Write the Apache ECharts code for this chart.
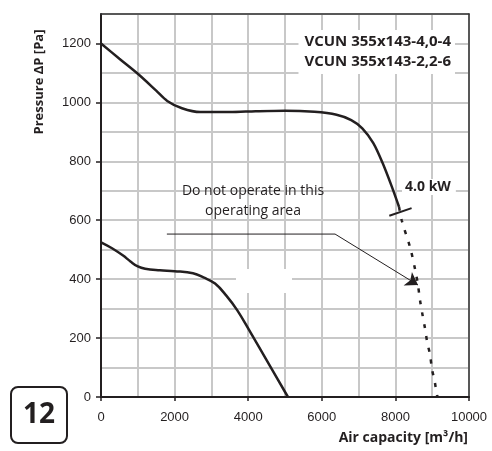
<!DOCTYPE html>
<html><head><meta charset="utf-8">
<script src="https://cdn.jsdelivr.net/npm/echarts@6/dist/echarts.min.js"></script>
<style>html,body{margin:0;padding:0;background:#fff}#c{width:492px;height:451px}</style>
</head><body><div id="c"></div>
<script>
// ---- data ----
const upperCurve = [[0,1200],[500,1148],[1000,1097],[1500,1040],[1800,1005],[2200,980],[2700,967],[3500,967],[4200,970],[5000,972],[5800,968],[6400,958],[6800,940],[7100,912],[7400,862],[7650,795],[7900,715],[8100,645]];
const upperExtension = [[8100,645],[8171,600],[8410,503],[8550,424],[8614,380],[8668,329],[8731,283],[8804,233],[8867,184],[8940,145],[8995,94],[9068,53],[9130,6],[9160,0]];
const lowerCurve = [[0,525],[300,505],[600,480],[800,460],[1000,443],[1200,435],[1600,430],[2000,427],[2500,420],[2800,405],[3100,385],[3400,345],[3700,295],[4050,222],[4500,125],[5080,0]];
const powerMark = [[7835,615],[8440,641]];
const noteLeader = [[1790,553],[6360,553]];
const noteArrow = [[6360,553],[8614,380]];
const yTicks = [0,200,400,600,800,1000,1200];
const xTicks = [0,2000,4000,6000,8000,10000];
const legendLines = ['VCUN 355x143-4,0-4','VCUN 355x143-2,2-6'];
const powerLabel = '4.0 kW';
const noteText = ['Do not operate in this','operating area'];
const yName = 'Pressure ΔP [Pa]';
const xName = 'Air capacity [m³/h]';
const badge = '12';

const ink = '#231f20';
const chart = echarts.init(document.getElementById('c'));
chart.setOption({
  animation: false,
  grid: {left:101, right:23, top:14, bottom:54},
  xAxis: [
    {type:'value', min:0, max:10000, interval:1000, position:'bottom', z:0,
      axisLine:{show:false}, axisTick:{show:false}, axisLabel:{show:false},
      splitLine:{show:true, lineStyle:{color:'#c8c8c8', width:2}}},
    {type:'value', min:0, max:10000, position:'bottom', z:2,
      axisLine:{show:true, onZero:false, lineStyle:{color:ink, width:2}},
      axisTick:{show:true, customValues:xTicks, length:4, lineStyle:{color:ink, width:1.5}},
      axisLabel:{customValues:xTicks, margin:14, color:ink, fontSize:13, fontFamily:'Liberation Sans, Arial', formatter: v => String(v)},
      splitLine:{show:false}},
    {type:'value', min:0, max:10000, position:'top', z:2,
      axisLine:{show:true, onZero:false, lineStyle:{color:'#333', width:1.5}},
      axisTick:{show:false}, axisLabel:{show:false}, splitLine:{show:false}}
  ],
  yAxis: [
    {type:'value', min:0, max:1300, interval:100, position:'left', z:0,
      axisLine:{show:false}, axisTick:{show:false}, axisLabel:{show:false},
      splitLine:{show:true, lineStyle:{color:'#c8c8c8', width:2}}},
    {type:'value', min:0, max:1300, position:'left', z:2,
      axisLine:{show:true, onZero:false, lineStyle:{color:ink, width:2}},
      axisTick:{show:true, customValues:yTicks, length:5, lineStyle:{color:ink, width:1.5}},
      axisLabel:{customValues:yTicks, margin:10, color:ink, fontSize:13, fontFamily:'Liberation Sans, Arial', formatter: v => String(v)},
      splitLine:{show:false}},
    {type:'value', min:0, max:1300, position:'right', z:2,
      axisLine:{show:true, onZero:false, lineStyle:{color:'#333', width:1.5}},
      axisTick:{show:false}, axisLabel:{show:false}, splitLine:{show:false}}
  ],
  graphic: [
    {type:'rect', z:1, shape:{x:236, y:269, width:56, height:24}, style:{fill:'#fff'}},
    {type:'text', z:5, right:37, top:30, style:{text:legendLines.join('\n'), font:'bold 15px "Open Sans"', fill:ink, align:'right', lineHeight:20, backgroundColor:'#fff', padding:[2,4,2,6]}},
    {type:'text', z:5, left:402, top:179, style:{text:powerLabel, font:'bold 14px "Open Sans"', fill:ink, backgroundColor:'#fff', padding:[1,5,1,3]}},
    {type:'text', z:5, x:253, y:201, style:{text:noteText.join('\n'), font:'14px "Open Sans"', fill:ink, align:'center', verticalAlign:'middle', lineHeight:20}},
    {type:'text', z:5, x:39, y:82, rotation:Math.PI/2, style:{text:yName, font:'bold 13px "Open Sans"', fill:ink, align:'center', verticalAlign:'middle'}},
    {type:'text', z:5, x:468, y:438, style:{text:xName, font:'bold 14px "Open Sans"', fill:ink, align:'right', verticalAlign:'middle'}},
    {type:'rect', z:5, shape:{x:11, y:387, width:56, height:56, r:7}, style:{fill:'#fff', stroke:ink, lineWidth:2}},
    {type:'text', z:6, x:39, y:415, style:{text:badge, font:'bold 28px "Open Sans"', fill:ink, align:'center', verticalAlign:'middle'}}
  ],
  series: [
    {type:'line', data:upperCurve, smooth:0.3, symbol:'none', z:3, lineStyle:{color:ink, width:2.5}},
    {type:'line', data:upperExtension, smooth:0.3, symbol:'none', z:3, lineStyle:{color:ink, width:2.5, type:[4,8]}},
    {type:'line', data:lowerCurve, smooth:0.4, symbol:'none', z:3, lineStyle:{color:ink, width:2.5}},
    {type:'line', data:powerMark, symbol:'none', z:3, lineStyle:{color:ink, width:2}},
    {type:'line', data:noteLeader, symbol:'none', z:3, lineStyle:{color:ink, width:1}},
    {type:'lines', coordinateSystem:'cartesian2d', z:3, symbol:['none','arrow'], symbolSize:[7,12],
      lineStyle:{color:ink, width:1, opacity:1}, data:[{coords:noteArrow}]}
  ]
});
</script></body></html>
